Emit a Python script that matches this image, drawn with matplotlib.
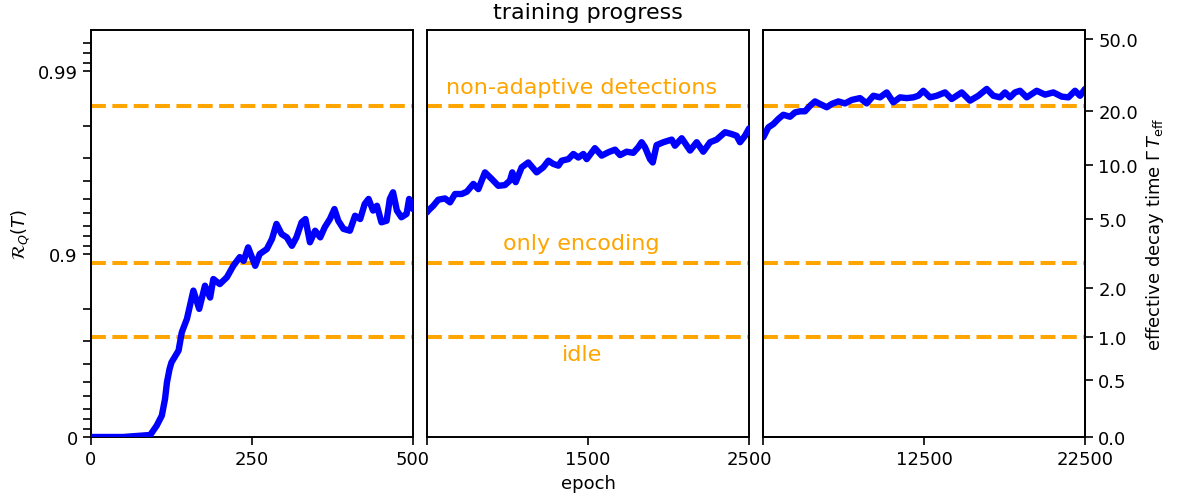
import numpy as np
import matplotlib
matplotlib.use("Agg")
import matplotlib.pyplot as plt
from matplotlib.ticker import FixedLocator, NullLocator, FixedFormatter, NullFormatter

# ---------------- data ----------------
epoch_p1 = [0, 50, 92, 102, 110, 115, 118, 122, 125, 136, 141, 149, 159, 168, 177, 185, 190, 200,
            211, 221, 231, 237, 244, 255, 262, 273, 281, 288, 296, 304, 312, 319, 327, 333, 340,
            348, 356, 363, 371, 378, 384, 392, 402, 410, 418, 425, 431, 438, 444, 451, 459, 464,
            469, 475, 482, 490, 494, 500]
R_p1 = [0.0, 0.0, 0.025, 0.133, 0.236, 0.381, 0.498, 0.575, 0.609, 0.663, 0.732, 0.774, 0.8415,
        0.8005, 0.851, 0.827, 0.863, 0.854, 0.866, 0.884, 0.896, 0.891, 0.908, 0.884, 0.900,
        0.906, 0.9172, 0.9315, 0.9222, 0.9189, 0.9098, 0.9189, 0.9329, 0.9356, 0.9137, 0.9254,
        0.9189, 0.9286, 0.9356, 0.9432, 0.9342, 0.9271, 0.9254, 0.9382, 0.9356, 0.9467, 0.9500,
        0.9421, 0.9455, 0.9329, 0.9342, 0.9500, 0.9540, 0.9421, 0.9370, 0.9396, 0.9500, 0.9432]

epoch_p2 = [500, 508, 539, 570, 612, 643, 674, 715, 747, 788, 819, 860, 902, 943, 984, 1015, 1030,
            1051, 1088, 1129, 1181, 1222, 1254, 1285, 1316, 1337, 1378, 1409, 1440, 1471, 1492,
            1543, 1585, 1626, 1668, 1699, 1740, 1781, 1812, 1833, 1854, 1885, 1902, 1926, 1968,
            2020, 2040, 2082, 2134, 2175, 2216, 2258, 2299, 2351, 2392, 2423, 2444, 2475, 2500]
R_p2 = [0.9408, 0.9421, 0.9455, 0.9495, 0.9503, 0.9478, 0.9530, 0.9530, 0.9543, 0.9586, 0.9558,
        0.9642, 0.9611, 0.9576, 0.9580, 0.9603, 0.9642, 0.9595, 0.9664, 0.9684, 0.9642, 0.9664,
        0.9691, 0.9678, 0.9671, 0.9691, 0.9697, 0.9716, 0.9703, 0.9716, 0.9697, 0.9736, 0.9710,
        0.9722, 0.9731, 0.9712, 0.9724, 0.9720, 0.9739, 0.9755, 0.9739, 0.9697, 0.9684, 0.9746,
        0.9755, 0.9763, 0.9744, 0.9767, 0.9728, 0.9755, 0.9724, 0.9755, 0.9763, 0.9784, 0.9779,
        0.9774, 0.9755, 0.9774, 0.9794]

epoch_p3 = [2520, 2830, 3140, 3450, 3761, 4177, 4488, 4798, 5109, 5419, 5730, 6040, 6456, 6767,
            7177, 7593, 8009, 8525, 8941, 9351, 9767, 10183, 10593, 11009, 11425, 11835, 12146,
            12457, 12873, 13289, 13804, 14220, 14842, 15357, 15873, 16394, 16804, 17220, 17531,
            17841, 18152, 18463, 18878, 19500, 20015, 20531, 21053, 21466, 21878, 22190, 22500]
R_p3 = [0.97699, 0.97968, 0.98050, 0.98172, 0.98266, 0.98222, 0.98317, 0.98340, 0.98340, 0.98451,
        0.98534, 0.98486, 0.98422, 0.98486, 0.98534, 0.98497, 0.98561, 0.98594, 0.98497, 0.98635,
        0.98607, 0.98691, 0.98517, 0.98607, 0.98594, 0.98607, 0.98635, 0.98718, 0.98607, 0.98635,
        0.98691, 0.98578, 0.98691, 0.98548, 0.98635, 0.98747, 0.98635, 0.98607, 0.98691, 0.98607,
        0.98691, 0.98718, 0.98607, 0.98718, 0.98654, 0.98691, 0.98620, 0.98607, 0.98718, 0.98635,
        0.98747]

ref_labels = ["non-adaptive detections", "only encoding", "idle"]
ref_R = [0.9845, 0.888, 0.7165]

panel_xlims = [(0, 500), (500, 2500), (2500, 22500)]
panel_xticks = [[0, 250, 500], [500, 1500, 2500], [2500, 12500, 22500]]
panel_xticklabels = [["0", "250", "500"], ["", "1500", "2500"], ["", "12500", "22500"]]

R_major = [0.0, 0.9, 0.99]
R_major_labels = ["0", "0.9", "0.99"]
R_minor = [0.1, 0.2, 0.3, 0.4, 0.5, 0.6, 0.7, 0.8,
           0.91, 0.92, 0.93, 0.94, 0.95, 0.96, 0.97, 0.98,
           0.991, 0.992, 0.993]
Teff_ticks = [0.0, 0.5, 1.0, 2.0, 5.0, 10.0, 20.0, 50.0]
R_top = 0.99403


# ---------------- scale helpers ----------------
def fwd(R):
    R = np.asarray(R, dtype=float)
    return -np.log10(np.clip(1.0 - R, 1e-12, None))


def inv(u):
    u = np.asarray(u, dtype=float)
    return 1.0 - 10.0 ** (-u)


def teff_to_R(T):
    T = np.asarray(T, dtype=float)
    return np.where(T > 0, np.exp(-1.0 / (3.0 * np.where(T > 0, T, 1.0))), 0.0)


plt.rcParams["font.family"] = "DejaVu Sans"
plt.rcParams["font.size"] = 13

fig = plt.figure(figsize=(11.8, 5.02), dpi=100)
left, bottom, width, height, gap = 0.0771, 0.1275, 0.2729, 0.8107, 0.01186
axes = [fig.add_axes([left + i * (width + gap), bottom, width, height]) for i in range(3)]

epochs = [epoch_p1, epoch_p2, epoch_p3]
values = [R_p1, R_p2, R_p3]

for i, ax in enumerate(axes):
    ax.set_yscale("function", functions=(fwd, inv))
    ax.plot(epochs[i], values[i], color="blue", lw=4.6, solid_capstyle="round",
            solid_joinstyle="round", zorder=3)
    for r in ref_R:
        ax.axhline(r, color="orange", ls="--", lw=2.9, zorder=2)
    ax.set_xlim(*panel_xlims[i])
    ax.set_ylim(0, R_top)
    ax.xaxis.set_major_locator(FixedLocator(panel_xticks[i]))
    ax.xaxis.set_major_formatter(FixedFormatter(panel_xticklabels[i]))
    ax.tick_params(axis="x", length=6, width=1.2, labelsize=13)
    for s in ax.spines.values():
        s.set_linewidth(1.4)
    if i == 0:
        ax.yaxis.set_major_locator(FixedLocator(R_major))
        ax.yaxis.set_major_formatter(FixedFormatter(R_major_labels))
        ax.yaxis.set_minor_locator(FixedLocator(R_minor))
        ax.yaxis.set_minor_formatter(NullFormatter())
        ax.tick_params(axis="y", which="major", length=6, width=1.2, labelsize=13)
        ax.tick_params(axis="y", which="minor", length=6, width=1.2)
        ax.set_ylabel(r"$\mathcal{R}_Q(T)$", fontsize=13)
    else:
        ax.yaxis.set_major_locator(NullLocator())
        ax.yaxis.set_minor_locator(NullLocator())

# reference labels in the middle panel
text_x = 1460
offsets = [19, 20, -17]
for lab, r, off in zip(ref_labels, ref_R, offsets):
    axes[1].annotate(lab, xy=(text_x, r), xytext=(0, off * 0.72), textcoords="offset points",
                     ha="center", va="center", color="orange", fontsize=16)

axes[1].set_title("training progress", fontsize=16, pad=9)
axes[1].set_xlabel("epoch", fontsize=13)

# right axis: effective decay time
axr = axes[2].twinx()
axr.set_yscale("function", functions=(fwd, inv))
axr.set_ylim(0, R_top)
axr.yaxis.set_major_locator(FixedLocator(teff_to_R(Teff_ticks)))
axr.yaxis.set_major_formatter(FixedFormatter(["%.1f" % t for t in Teff_ticks]))
axr.yaxis.set_minor_locator(NullLocator())
axr.tick_params(axis="y", length=6, width=1.2, labelsize=13)
axr.set_ylabel(r"effective decay time $\Gamma\, T_{\rm eff}$", fontsize=13)
for s in axr.spines.values():
    s.set_linewidth(1.4)

fig.savefig("out.png", dpi=100)
